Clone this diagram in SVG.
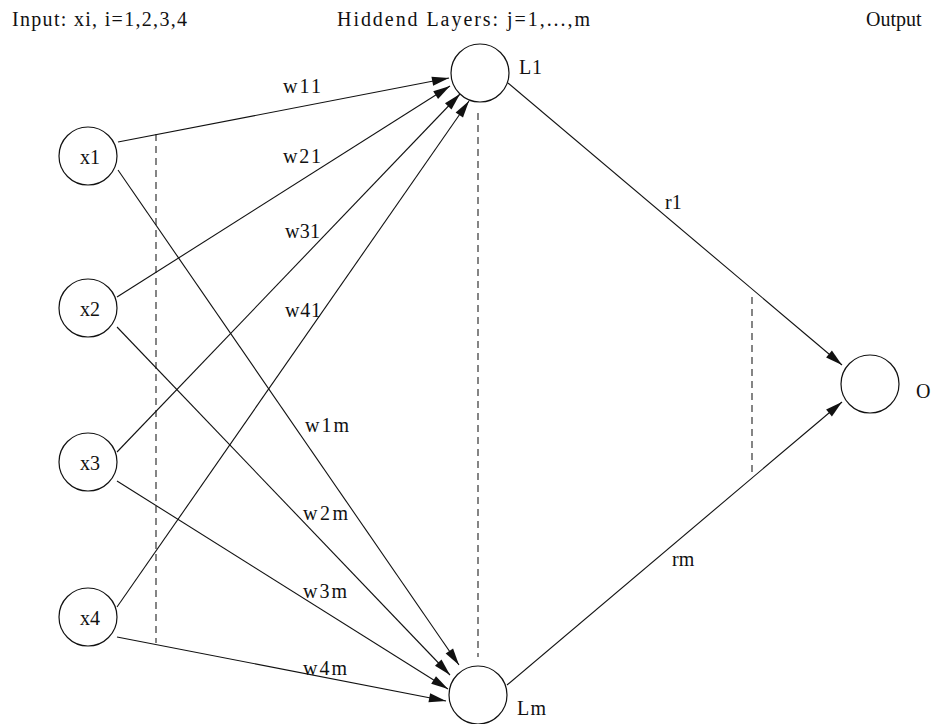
<svg xmlns="http://www.w3.org/2000/svg" width="933" height="724" viewBox="0 0 933 724">
<style>
  .bg { fill: #ffffff; }
  .node { fill: #ffffff; stroke: #111; stroke-width: 1.2; }
  .lbl { font-family: "Liberation Serif", "Times New Roman", serif; font-size: 20px; fill: #111; }
  .conn { stroke: #111; stroke-width: 1.1; fill: none; }
  .dash { stroke: #222; stroke-width: 1.1; stroke-dasharray: 7 5; fill: none; }
</style>
<defs>
  <marker id="ah" markerUnits="userSpaceOnUse" markerWidth="20" markerHeight="12" viewBox="-18 -6 20 12" refX="0" refY="0" orient="auto">
    <path d="M0,0 L-17,-4.5 L-17,4.5 z" fill="#111"/>
  </marker>
</defs>
<rect class="bg" x="0" y="0" width="933" height="724"/>

<g id="titles">
  <text class="lbl" x="12" y="26" textLength="175" lengthAdjust="spacing">Input: xi, i=1,2,3,4</text>
  <text class="lbl" x="337" y="26" textLength="253" lengthAdjust="spacing">Hiddend Layers: j=1,...,m</text>
  <text class="lbl" x="866" y="26">Output</text>
</g>

<g id="guides">
  <line class="dash" x1="156" y1="134" x2="156" y2="643"/>
  <line class="dash" x1="478" y1="113" x2="478" y2="657"/>
  <line class="dash" x1="752" y1="297" x2="752" y2="472"/>
</g>

<g id="connectors">
  <line class="conn" x1="118" y1="142" x2="449" y2="78" marker-end="url(#ah)"/>
  <line class="conn" x1="117" y1="297" x2="450" y2="86" marker-end="url(#ah)"/>
  <line class="conn" x1="117" y1="452" x2="460" y2="94" marker-end="url(#ah)"/>
  <line class="conn" x1="117" y1="607" x2="469" y2="101" marker-end="url(#ah)"/>
  <line class="conn" x1="118" y1="170" x2="459" y2="665" marker-end="url(#ah)"/>
  <line class="conn" x1="117" y1="327" x2="450" y2="675" marker-end="url(#ah)"/>
  <line class="conn" x1="117" y1="481" x2="448" y2="689" marker-end="url(#ah)"/>
  <line class="conn" x1="117" y1="637" x2="446" y2="701" marker-end="url(#ah)"/>
  <line class="conn" x1="508" y1="83" x2="842" y2="365" marker-end="url(#ah)"/>
  <line class="conn" x1="507" y1="685" x2="842" y2="402" marker-end="url(#ah)"/>
  <g id="connector-labels">
    <text class="lbl" x="283" y="93" textLength="38" lengthAdjust="spacing">w11</text>
    <text class="lbl" x="283" y="163" textLength="38" lengthAdjust="spacing">w21</text>
    <text class="lbl" x="285" y="238" textLength="35" lengthAdjust="spacing">w31</text>
    <text class="lbl" x="285" y="317" textLength="36" lengthAdjust="spacing">w41</text>
    <text class="lbl" x="305" y="432" textLength="44" lengthAdjust="spacing">w1m</text>
    <text class="lbl" x="303" y="520" textLength="45" lengthAdjust="spacing">w2m</text>
    <text class="lbl" x="303" y="598" textLength="44" lengthAdjust="spacing">w3m</text>
    <text class="lbl" x="303" y="675" textLength="44" lengthAdjust="spacing">w4m</text>
    <text class="lbl" x="665" y="209">r1</text>
    <text class="lbl" x="672" y="566">rm</text>
  </g>
</g>

<g id="x1"><circle class="node" cx="88" cy="156" r="29"/><text class="lbl" x="90" y="164" text-anchor="middle">x1</text></g>
<g id="x2"><circle class="node" cx="88" cy="308" r="29"/><text class="lbl" x="90" y="316" text-anchor="middle">x2</text></g>
<g id="x3"><circle class="node" cx="88" cy="462" r="29"/><text class="lbl" x="90" y="470" text-anchor="middle">x3</text></g>
<g id="x4"><circle class="node" cx="88" cy="617" r="29"/><text class="lbl" x="90" y="625" text-anchor="middle">x4</text></g>
<g id="L1"><circle class="node" cx="480" cy="73" r="29"/><text class="lbl" x="519" y="74" textLength="23" lengthAdjust="spacing">L1</text></g>
<g id="Lm"><circle class="node" cx="478" cy="695" r="29"/><text class="lbl" x="517" y="715" textLength="29" lengthAdjust="spacing">Lm</text></g>
<g id="O"><circle class="node" cx="870" cy="384" r="29"/><text class="lbl" x="916" y="398">O</text></g>
</svg>
